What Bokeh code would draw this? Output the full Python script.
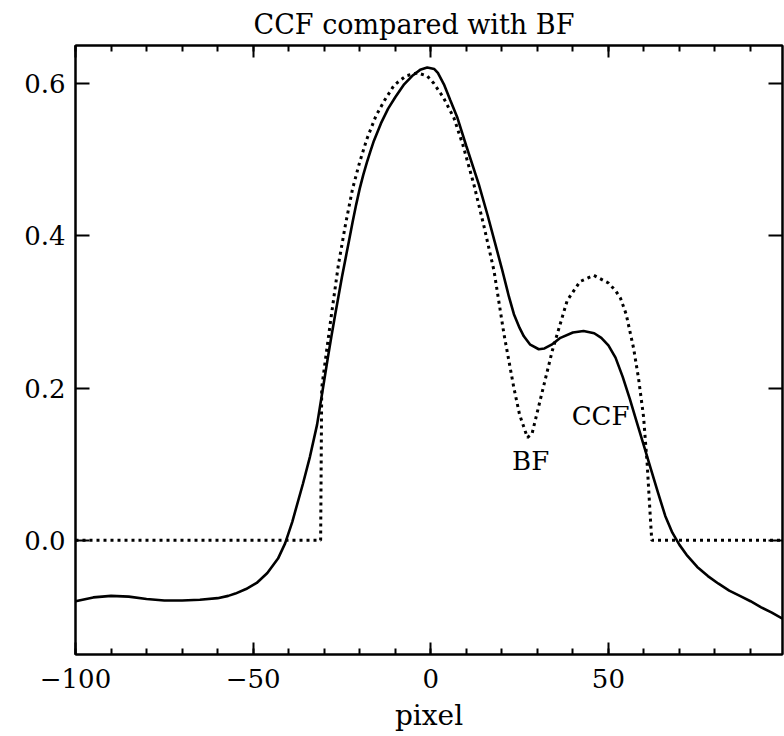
from bokeh.plotting import figure
from bokeh.models import (Range1d, LinearAxis, SingleIntervalTicker, FixedTicker,
                          PrintfTickFormatter)
from bokeh.core.properties import value
from bokeh.embed import file_html
from bokeh.resources import INLINE

# ---- data ----
ccf_x = [-100, -95, -90, -85, -80, -75, -70, -65, -60, -57, -55, -52, -49, -46, -43,
         -41, -39, -36, -34, -32, -30, -29, -28, -27, -26, -25, -24, -23, -22, -21,
         -20, -19, -18, -17, -16, -14, -12, -10, -7.5, -5, -3, -1, 1, 2, 3.7, 5.5,
         7.5, 10, 13.5, 16, 18, 20, 22, 23.4, 25, 26.2, 28, 30.4, 32, 34, 36.5, 40,
         43, 46, 48, 50, 52, 54, 56, 58, 60, 62, 64, 66, 68, 70, 72, 75, 78, 81, 84,
         87, 90, 93, 96, 99]
ccf_y = [-0.080, -0.075, -0.073, -0.074, -0.077, -0.079, -0.079, -0.078, -0.076,
         -0.073, -0.070, -0.064, -0.056, -0.043, -0.024, -0.004, 0.024, 0.074,
         0.110, 0.152, 0.210, 0.239, 0.267, 0.294, 0.320, 0.346, 0.370, 0.394,
         0.418, 0.441, 0.462, 0.480, 0.496, 0.511, 0.525, 0.548, 0.567, 0.582,
         0.599, 0.611, 0.618, 0.621, 0.619, 0.614, 0.599, 0.578, 0.555, 0.518,
         0.468, 0.427, 0.392, 0.357, 0.320, 0.297, 0.279, 0.268, 0.257, 0.251,
         0.252, 0.257, 0.266, 0.273, 0.275, 0.272, 0.266, 0.256, 0.240, 0.215,
         0.186, 0.155, 0.124, 0.093, 0.062, 0.032, 0.010, -0.006, -0.019, -0.035,
         -0.047, -0.057, -0.066, -0.073, -0.080, -0.088, -0.095, -0.103]

bf_x = [-100, -31, -30.7, -30, -28, -26, -24, -22, -20, -18, -15.4, -13, -10.3, -7,
        -3.7, -1, 0.9, 3.5, 6.5, 9, 12.1, 15, 17.8, 20.6, 23.4, 25, 27.2, 28.5,
        30.9, 34.2, 38.4, 42, 45.9, 50, 52, 53.4, 55, 57.1, 58.5, 59.9, 60.9, 61.8,
        62.2, 99]
bf_y = [0.0, 0.0, 0.200, 0.225, 0.295, 0.362, 0.415, 0.462, 0.497, 0.527, 0.558,
        0.578, 0.598, 0.610, 0.614, 0.610, 0.600, 0.582, 0.555, 0.520, 0.468,
        0.412, 0.354, 0.271, 0.200, 0.165, 0.135, 0.140, 0.186, 0.249, 0.315,
        0.340, 0.348, 0.338, 0.328, 0.318, 0.297, 0.252, 0.212, 0.162, 0.101,
        0.030, 0.0, 0.0]

title_text = "CCF compared with BF"
x_label = "pixel"
annotations = ["BF", "CCF"]
annot_x = [28.1, 47.8]
annot_y = [0.104, 0.163]

FONT = "DejaVu Serif"
FS = "26px"

p = figure(width=784, height=736, x_range=Range1d(-100, 99), y_range=Range1d(-0.15, 0.65),
           output_backend="svg", toolbar_location=None,
           min_border_left=75, min_border_right=2, min_border_top=44, min_border_bottom=82,
           x_axis_location=None, y_axis_location=None)
p.background_fill_color = "white"
p.border_fill_color = "white"
p.outline_line_color = "black"
p.outline_line_width = 2
p.xgrid.visible = False
p.ygrid.visible = False

p.title.text = title_text
p.title.align = "left"
p.title.text_font = FONT
p.title.text_font_size = "27px"
p.title.text_font_style = "normal"
p.title.text_color = "black"
p.title.offset = 178
p.title.standoff = 12


def style_axis(ax, tick_in, minor_in, labels=True):
    ax.axis_line_color = "black"
    ax.axis_line_width = 2
    ax.major_tick_line_color = "black"
    ax.major_tick_line_width = 2
    ax.minor_tick_line_color = "black"
    ax.minor_tick_line_width = 2
    ax.major_tick_in = tick_in
    ax.major_tick_out = 0
    ax.minor_tick_in = minor_in
    ax.minor_tick_out = 0
    ax.major_label_text_font = FONT
    if labels:
        ax.major_label_text_font_size = FS
        ax.major_label_text_color = "black"
    else:
        ax.major_label_text_font_size = "0px"
        ax.major_label_text_color = None
    ax.axis_label_text_font = FONT
    ax.axis_label_text_font_size = FS
    ax.axis_label_text_font_style = "normal"
    ax.axis_label_text_color = "black"


xt = SingleIntervalTicker(interval=50, num_minor_ticks=5)
yt = FixedTicker(ticks=[0.0, 0.2, 0.4, 0.6], minor_ticks=[])

xb = LinearAxis(ticker=xt, axis_label=x_label)
xb.major_label_overrides = {-100: "\u2212100", -50: "\u221250"}
style_axis(xb, 12, 6)
xb.major_label_standoff = 14
xb.axis_label_standoff = 8
xb.axis_label_text_font_size = "28px"
p.add_layout(xb, "below")

xa = LinearAxis(ticker=xt)
style_axis(xa, 12, 6, labels=False)
xa.major_label_standoff = 0
p.add_layout(xa, "above")

yl = LinearAxis(ticker=yt, formatter=PrintfTickFormatter(format="%.1f"))
style_axis(yl, 14, 0)
yl.major_label_standoff = 10
p.add_layout(yl, "left")

yr = LinearAxis(ticker=yt)
style_axis(yr, 14, 0, labels=False)
yr.major_label_standoff = 0
p.add_layout(yr, "right")

p.line(ccf_x, ccf_y, line_color="black", line_width=2.6)
p.line(bf_x, bf_y, line_color="black", line_width=3, line_dash="3 4")

p.text(x=annot_x, y=annot_y, text=annotations, text_font=value(FONT),
       text_font_size=FS, text_align="center", text_baseline="middle",
       text_color="black")

open("out.html", "w").write(file_html(p, INLINE))
